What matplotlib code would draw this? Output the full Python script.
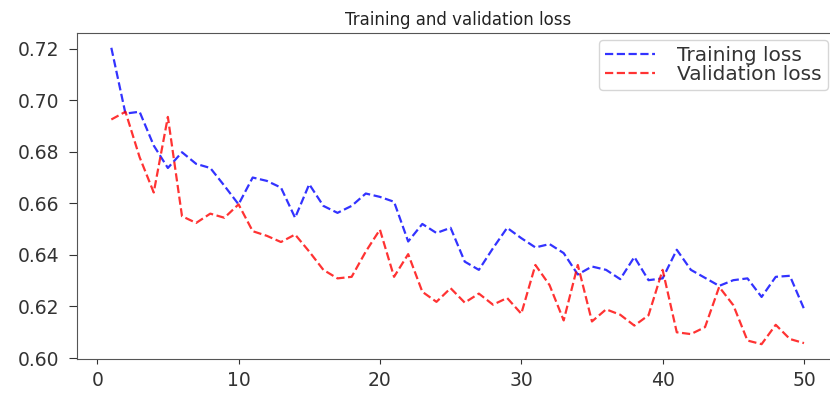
import matplotlib
matplotlib.use("Agg")
import matplotlib.pyplot as plt

# loss per epoch
epochs = list(range(1, 51))

train_loss = [
    0.7203, 0.6948, 0.6955, 0.6824, 0.6737, 0.6798, 0.6753, 0.6737, 0.6668, 0.6596,
    0.6700, 0.6687, 0.6661, 0.6544, 0.6674, 0.6590, 0.6563, 0.6590, 0.6638, 0.6625,
    0.6606, 0.6452, 0.6520, 0.6485, 0.6505, 0.6374, 0.6342, 0.6426, 0.6505, 0.6465,
    0.6429, 0.6442, 0.6407, 0.6324, 0.6355, 0.6342, 0.6306, 0.6392, 0.6302, 0.6309,
    0.6420, 0.6342, 0.6311, 0.6280, 0.6302, 0.6309, 0.6237, 0.6315, 0.6319, 0.6191,
]

val_loss = [
    0.6925, 0.6955, 0.6779, 0.6642, 0.6935, 0.6550, 0.6524, 0.6560, 0.6544, 0.6596,
    0.6492, 0.6474, 0.6450, 0.6479, 0.6413, 0.6342, 0.6309, 0.6315, 0.6413, 0.6498,
    0.6315, 0.6403, 0.6257, 0.6218, 0.6271, 0.6215, 0.6250, 0.6207, 0.6233, 0.6172,
    0.6361, 0.6283, 0.6146, 0.6361, 0.6142, 0.6189, 0.6168, 0.6126, 0.6166, 0.6342,
    0.6100, 0.6093, 0.6120, 0.6276, 0.6205, 0.6068, 0.6054, 0.6129, 0.6074, 0.6058,
]

fig = plt.figure(figsize=(8.3, 4.07), dpi=100)
# the reference is cropped on the right, so the axes run a bit past the figure edge
ax = fig.add_axes([0.0924, 0.118, 0.918, 0.801])

ax.plot(epochs, train_loss, 'b--', alpha=0.8, linewidth=1.6, label='Training loss')
ax.plot(epochs, val_loss, 'r--', alpha=0.8, linewidth=1.6, label='Validation loss')

ax.set_title('Training and validation loss', fontsize=12, color='#222222')
ax.tick_params(labelsize=13.5, colors='#333333')
ax.tick_params(axis='y', length=6, pad=6.5)
ax.tick_params(axis='x', length=3.6, pad=5)
ax.set_yticks([0.60, 0.62, 0.64, 0.66, 0.68, 0.70, 0.72])
ax.set_xticks([0, 10, 20, 30, 40, 50])
for s in ax.spines.values():
    s.set_color('#555555')
ax.spines['right'].set_visible(False)

leg = ax.legend(loc='upper right', bbox_to_anchor=(828 / 830, 1 - 40 / 407),
                bbox_transform=fig.transFigure, borderaxespad=0,
                fontsize=14.5, handlelength=2.5, handletextpad=1.1,
                labelspacing=0.02, borderpad=0.3)
for t in leg.get_texts():
    t.set_color('#333333')

fig.savefig('out.png', dpi=100)
